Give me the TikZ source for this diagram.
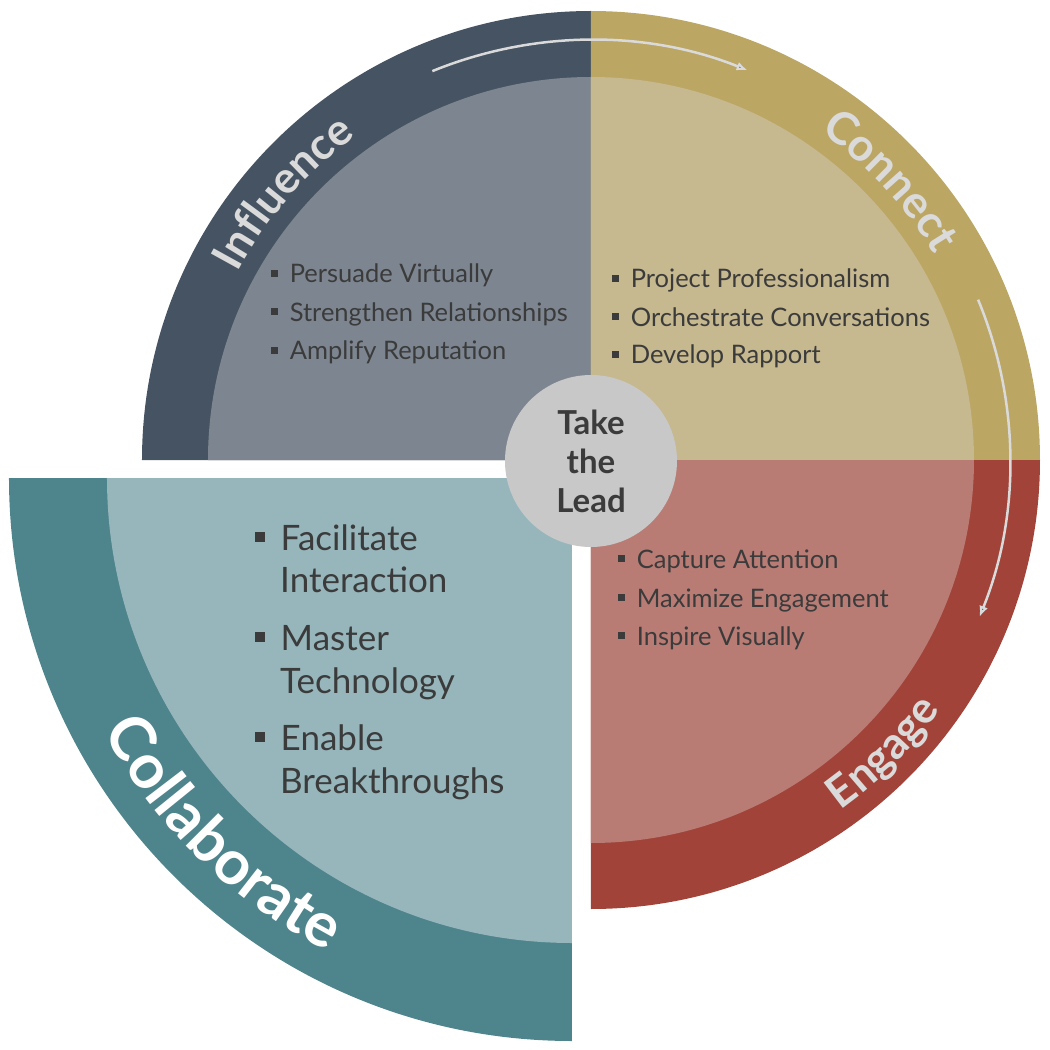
\documentclass[tikz,border=0pt]{standalone}
\usepackage{fontspec}
\setmainfont{Lato}
\usetikzlibrary{arrows.meta,decorations.text}
\definecolor{inflring}{HTML}{465362}
\definecolor{inflfill}{HTML}{7D8690}
\definecolor{connring}{HTML}{BCA664}
\definecolor{connfill}{HTML}{C6B88F}
\definecolor{engring}{HTML}{A14338}
\definecolor{engfill}{HTML}{B87C75}
\definecolor{collring}{HTML}{4E848C}
\definecolor{collfill}{HTML}{96B6BB}
\definecolor{hubgray}{HTML}{C8C8C8}
\definecolor{labelgray}{HTML}{DADADA}
\definecolor{textdark}{HTML}{3B3B3B}
\newcommand{\blt}{\rule[.24em]{.28em}{.28em}\hspace{.45em}}
\begin{document}
\begin{tikzpicture}[x=1pt,y=1pt,
        item/.style={anchor=base west,inner sep=0pt,text=textdark,font=\fontsize{25.5}{30}\selectfont},
        bigitem/.style={item,font=\fontsize{35}{40}\selectfont},
        flow/.style={draw=labelgray,line width=2.5pt,-{Latex[length=11pt,width=9pt]}}]
    \useasboundingbox (-591,-590) rectangle (459,460);
    % four quarters
    \fill[inflring] (0,0) -- (90:449) arc (90:180:449) -- cycle;
    \fill[inflfill] (0,0) -- (90:383) arc (90:180:383) -- cycle;
    \fill[connring] (0,0) -- (0:449) arc (0:90:449) -- cycle;
    \fill[connfill] (0,0) -- (0:383) arc (0:90:383) -- cycle;
    \fill[engring] (0,0) -- (-90:449) arc (-90:0:449) -- cycle;
    \fill[engfill] (0,0) -- (-90:383) arc (-90:0:383) -- cycle;
    \begin{scope}[shift={(-19,-18)}]
        \fill[collring] (0,0) -- (180:563) arc (180:270:563) -- cycle;
        \fill[collfill] (0,0) -- (180:465) arc (180:270:465) -- cycle;
        \path[decorate,decoration={text along path,text align=center,text color=white,
            text={|\fontsize{62}{62}\selectfont\bfseries|Collaborate}}] (185:533) arc (185:266:533);
    \end{scope}
    % ring labels
    \path[decorate,decoration={text along path,text align=center,text color=labelgray,
        text={|\fontsize{44}{44}\selectfont\bfseries|Influence}}] (174:400) arc (174:104:400);
    \path[decorate,decoration={text along path,text align=center,text color=labelgray,
        text={|\fontsize{45}{45}\selectfont\bfseries|Connect}}] (78:400) arc (78:8:400);
    \path[decorate,decoration={text along path,text align=center,text color=labelgray,
        text={|\fontsize{44}{44}\selectfont\bfseries|Engage}}] (-80:430) arc (-80:-10:430);
    % arrows
    \draw[flow] (112.2:420) arc (112.2:68.1:420);
    \draw[flow] (22.5:419) arc (22.5:-22:419);
    % hub
    \node[circle,fill=hubgray,minimum size=172pt,inner sep=0pt,align=center,text=textdark,
        font=\fontsize{33}{39}\selectfont\bfseries] (hub) at (0,-1) {Take\\the\\Lead};
    % lists
    \node[item] (inf1) at (-320,177) {\blt Persuade Virtually};
    \node[item] (inf2) at (-320,138.5) {\blt Strengthen Relationships};
    \node[item] (inf3) at (-320,100) {\blt Amplify Reputation};
    \node[item] (con1) at (21,172) {\blt Project Professionalism};
    \node[item] (con2) at (21,134) {\blt Orchestrate Conversations};
    \node[item] (con3) at (21,96) {\blt Develop Rapport};
    \node[item] (eng1) at (27,-108) {\blt Capture Attention};
    \node[item] (eng2) at (27,-147) {\blt Maximize Engagement};
    \node[item] (eng3) at (27,-185) {\blt Inspire Visually};
    \node[bigitem] (col1) at (-336,-90) {\blt Facilitate};
    \node[bigitem] (col1b) at (-311,-132) {Interaction};
    \node[bigitem] (col2) at (-336,-190) {\blt Master};
    \node[bigitem] (col2b) at (-311,-233) {Technology};
    \node[bigitem] (col3) at (-336,-290) {\blt Enable};
    \node[bigitem] (col3b) at (-311,-333) {Breakthroughs};
\end{tikzpicture}
\end{document}
